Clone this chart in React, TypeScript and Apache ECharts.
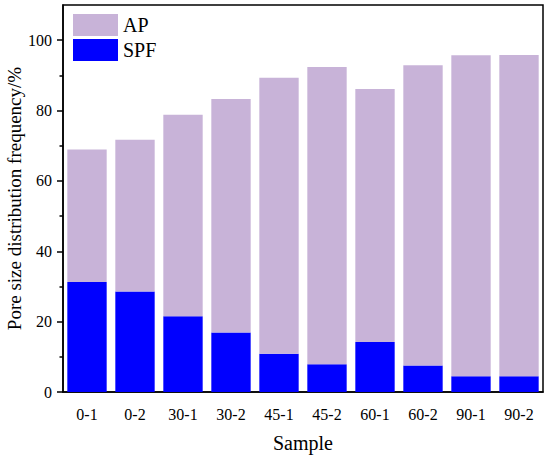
import React, { useEffect, useRef } from "react";
import * as echarts from "echarts";

const categories = ["0-1", "0-2", "30-1", "30-2", "45-1", "45-2", "60-1", "60-2", "90-1", "90-2"];
const spfValues = [31.3, 28.6, 21.5, 16.9, 10.9, 7.9, 14.2, 7.5, 4.5, 4.5];
const apValues = [37.6, 43.1, 57.3, 66.4, 78.4, 84.5, 71.9, 85.4, 91.2, 91.3];
const majorTicks = [0, 20, 40, 60, 80, 100];
const minorTicks = [10, 30, 50, 70, 90];
const yMin = 0;
const yMax = 110;

const FONT = "Liberation Serif";
const GRID = { left: 63, right: 7, top: 5, bottom: 66 };
const W = 550;
const H = 458;

export default function App() {
  const ref = useRef<HTMLDivElement>(null);
  useEffect(() => {
    if (!ref.current) return;
    const chart = echarts.init(ref.current, null, { renderer: "svg" });
    const axisLineStyle = { color: "#000", width: 1.5 };
    const txt = { fontFamily: FONT, color: "#000" };
    chart.setOption({
      animation: false,
      textStyle: txt,
      grid: {
        ...GRID,
        containLabel: false,
        outerBoundsMode: "none",
        show: true,
        borderColor: "#000",
        borderWidth: 1.5,
      },
      legend: {
        orient: "vertical",
        left: 73,
        top: 14,
        padding: 0,
        itemWidth: 45,
        itemHeight: 22,
        itemGap: 3,
        icon: "rect",
        data: ["AP", "SPF"],
        textStyle: { fontFamily: FONT, color: "#000", fontSize: 20 },
      },
      xAxis: {
        type: "category",
        data: categories,
        name: "Sample",
        nameLocation: "middle",
        nameGap: 41,
        nameMoveOverlap: false,
        nameTextStyle: { fontFamily: FONT, color: "#000", fontSize: 20 },
        axisLine: { lineStyle: axisLineStyle },
        axisTick: { alignWithLabel: true, length: 5, lineStyle: axisLineStyle },
        axisLabel: { fontFamily: FONT, color: "#000", fontSize: 16, margin: 14 },
      },
      yAxis: [
        {
          type: "value",
          min: yMin,
          max: yMax,
          interval: 10,
          name: "Pore size distribution frequency/%",
          nameLocation: "middle",
          nameGap: 39,
          nameMoveOverlap: false,
          nameTextStyle: { fontFamily: FONT, color: "#000", fontSize: 19 },
          splitLine: { show: false },
          axisLine: { show: true, lineStyle: axisLineStyle },
          axisTick: { show: true, length: 6, customValues: majorTicks, lineStyle: axisLineStyle },
          axisLabel: { fontFamily: FONT, color: "#000", fontSize: 16, margin: 11, customValues: majorTicks },
        },
        {
          type: "value",
          position: "left",
          min: yMin,
          max: yMax,
          interval: 10,
          splitLine: { show: false },
          axisLine: { show: false },
          axisTick: { show: true, length: 3.5, customValues: minorTicks, lineStyle: axisLineStyle },
          axisLabel: { show: false },
        },
      ],
      series: [
        {
          name: "SPF",
          type: "bar",
          stack: "total",
          data: spfValues,
          barWidth: "82%",
          itemStyle: { color: "#0000ff" },
        },
        {
          name: "AP",
          type: "bar",
          stack: "total",
          data: apValues,
          barWidth: "82%",
          itemStyle: { color: "#c8b3d8" },
        },
      ],
    });
    return () => chart.dispose();
  }, []);
  return (
    <div
      ref={ref}
      style={{
        position: "absolute",
        left: 0,
        top: 0,
        width: W,
        height: H,
        background: "#fff",
        fontFamily: "'Liberation Serif', serif",
      }}
    />
  );
}
